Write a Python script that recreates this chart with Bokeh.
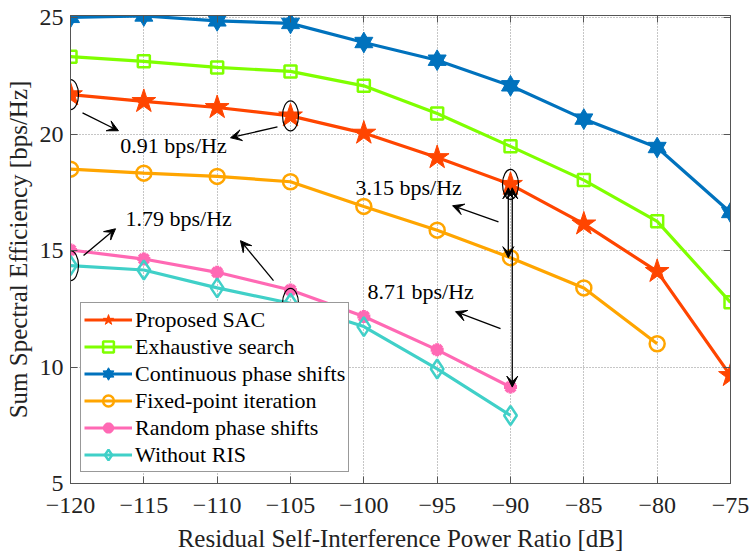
from bokeh.plotting import figure
from bokeh.models import (Range1d, FixedTicker, LinearAxis, Legend, LegendItem,
                          Arrow, VeeHead)
from bokeh.core.properties import value
from bokeh.embed import file_html
from bokeh.resources import INLINE

# data
x_db = [-120, -115, -110, -105, -100, -95, -90, -85, -80, -75]
proposed_sac = [21.70, 21.41, 21.15, 20.79, 20.05, 19.00, 17.85, 16.15, 14.11, 9.64]
exhaustive = [23.33, 23.13, 22.87, 22.70, 22.08, 20.89, 19.48, 18.03, 16.26, 12.78]
continuous = [25.02, 25.08, 24.87, 24.76, 23.94, 23.18, 22.08, 20.65, 19.43, 16.64]
fixed_point = [18.50, 18.33, 18.19, 17.96, 16.90, 15.88, 14.70, 13.40, 11.00]
random_phase = [15.03, 14.64, 14.07, 13.31, 12.17, 10.74, 9.14]
without_ris = [14.36, 14.17, 13.40, 12.74, 11.74, 9.92, 7.92]

x_ticks = [-120, -115, -110, -105, -100, -95, -90, -85, -80, -75]
x_tick_labels = ["\u2212120", "\u2212115", "\u2212110", "\u2212105", "\u2212100",
                 "\u221295", "\u221290", "\u221285", "\u221280", "\u221275"]
y_ticks = [5, 10, 15, 20, 25]

gap_labels = ["0.91 bps/Hz", "1.79 bps/Hz", "3.15 bps/Hz", "8.71 bps/Hz"]

FONT = "Liberation Serif"
RED = "#FF4500"
GREEN = "#7FFF00"
BLUE = "#0072BD"
ORANGE = "#FFA500"
PINK = "#FF69B4"
CYAN = "#40D0C8"

p = figure(width=754, height=557, output_backend="svg", toolbar_location=None,
           x_range=Range1d(-120, -75), y_range=Range1d(5, 25.1),
           min_border_left=70, min_border_right=24, min_border_top=15,
           min_border_bottom=74)
p.background_fill_color = "white"
p.outline_line_color = "#555555"

for ax in (p.xaxis[0], p.yaxis[0]):
    ax.major_tick_in = 7
    ax.major_tick_out = 0
    ax.minor_tick_line_color = None
    ax.axis_line_color = "#555555"
    ax.major_tick_line_color = "#555555"
    ax.major_label_text_font = FONT
    ax.major_label_text_font_size = "24px"
    ax.major_label_text_color = "#222222"
    ax.axis_label_text_font = FONT
    ax.axis_label_text_font_size = "25px"
    ax.axis_label_text_font_style = "normal"
    ax.axis_label_text_color = "#222222"

p.xaxis.ticker = FixedTicker(ticks=x_ticks)
p.xaxis.major_label_overrides = dict(zip(x_ticks, x_tick_labels))
p.yaxis.ticker = FixedTicker(ticks=y_ticks)
p.xaxis.axis_label = "Residual Self-Interference Power Ratio [dB]"
p.yaxis.axis_label = "Sum Spectral Efficiency [bps/Hz]"
p.xaxis.major_label_standoff = 14
p.xaxis.axis_label_standoff = 9
p.yaxis.major_label_standoff = 7
p.yaxis.axis_label_standoff = 5

# box ticks on top and right, no labels
top = LinearAxis(ticker=FixedTicker(ticks=x_ticks),
                 major_label_overrides={t: "" for t in x_ticks},
                 major_tick_in=7, major_tick_out=0, minor_tick_line_color=None,
                 axis_line_color="#555555", major_tick_line_color="#555555",
                 major_label_standoff=0)
right = LinearAxis(ticker=FixedTicker(ticks=y_ticks),
                   major_label_overrides={t: "" for t in y_ticks},
                   major_tick_in=7, major_tick_out=0, minor_tick_line_color=None,
                   axis_line_color="#555555", major_tick_line_color="#555555",
                   major_label_standoff=0)
p.add_layout(top, "above")
p.add_layout(right, "right")

p.xgrid.ticker = FixedTicker(ticks=x_ticks)
p.ygrid.ticker = FixedTicker(ticks=y_ticks)
p.grid.grid_line_color = "#8c8c8c"
p.grid.grid_line_dash = "1 2"
p.grid.grid_line_width = 1

LW = 3.2
items = []

# Proposed SAC
n = len(proposed_sac)
l1 = p.line(x_db[:n], proposed_sac, line_color=RED, line_width=LW)
m1 = p.scatter(x_db[:n], proposed_sac, marker="star", size=25, fill_color=RED,
               line_color=RED)
items.append(LegendItem(label="Proposed SAC", renderers=[l1, m1]))

# Exhaustive search
n = len(exhaustive)
l2 = p.line(x_db[:n], exhaustive, line_color=GREEN, line_width=LW)
m2 = p.scatter(x_db[:n], exhaustive, marker="square", size=12, fill_color=None,
               line_color=GREEN, line_width=2.5)
items.append(LegendItem(label="Exhaustive search", renderers=[l2, m2]))

# Continuous phase shifts (hexagram = two triangles)
n = len(continuous)
l3 = p.line(x_db[:n], continuous, line_color=BLUE, line_width=LW)
m3a = p.scatter(x_db[:n], continuous, marker="triangle", size=18, fill_color=BLUE,
                line_color=BLUE)
m3b = p.scatter(x_db[:n], continuous, marker="inverted_triangle", size=18,
                fill_color=BLUE, line_color=BLUE)
items.append(LegendItem(label="Continuous phase shifts", renderers=[l3, m3a, m3b]))

# Fixed-point iteration
n = len(fixed_point)
l4 = p.line(x_db[:n], fixed_point, line_color=ORANGE, line_width=LW)
m4 = p.scatter(x_db[:n], fixed_point, marker="circle", size=15, fill_color=None,
               line_color=ORANGE, line_width=2.5)
items.append(LegendItem(label="Fixed-point iteration", renderers=[l4, m4]))

# Random phase shifts
n = len(random_phase)
l5 = p.line(x_db[:n], random_phase, line_color=PINK, line_width=LW)
m5 = p.scatter(x_db[:n], random_phase, marker="asterisk", size=13,
               line_color=PINK, line_width=4)
items.append(LegendItem(label="Random phase shifts", renderers=[l5, m5]))

# Without RIS
n = len(without_ris)
l6 = p.line(x_db[:n], without_ris, line_color=CYAN, line_width=LW)
m6 = p.scatter(x_db[:n], without_ris, marker="diamond", size=19, fill_color=None,
               line_color=CYAN, line_width=2.5)
items.append(LegendItem(label="Without RIS", renderers=[l6, m6]))

# ellipses marking the compared points
ell_x = [x_db[0], x_db[3], x_db[6], x_db[0], x_db[3]]
ell_y = [proposed_sac[0], proposed_sac[3], proposed_sac[6], without_ris[0], without_ris[3]]
p.ellipse(x=ell_x, y=ell_y, width=16, height=30, width_units="screen",
          height_units="screen", fill_color=None, line_color="black", line_width=1.2)

# gap labels
label_x = [-116.6, -116.25, -100.57, -99.75]
label_y = [19.5, 16.37, 17.70, 13.24]
p.text(x=label_x, y=label_y, text=gap_labels, text_font=value(FONT),
       text_font_size="22px", text_baseline="middle", text_align="left",
       text_color="black")

# pointer arrows: (x_start, y_start, x_end, y_end)
pointers = [
    (-119.18, 20.92, -116.73, 20.15),
    (-105.89, 20.32, -109.09, 19.85),
    (-119.11, 14.79, -116.93, 15.94),
    (-106.16, 13.71, -108.41, 15.43),
    (-90.82, 16.24, -93.95, 16.93),
    (-90.68, 11.65, -93.75, 12.38),
]
for xs, ys, xe, ye in pointers:
    p.add_layout(Arrow(end=VeeHead(size=11, fill_color="black", line_color="black"),
                       x_start=xs, y_start=ys, x_end=xe, y_end=ye,
                       line_color="black", line_width=1.3))

# vertical double arrows at -90 dB
i90 = x_db.index(-90)
for dx, target in ((-0.15, fixed_point[i90]), (0.12, random_phase[i90])):
    p.add_layout(Arrow(start=VeeHead(size=11, fill_color="black", line_color="black"),
                       end=VeeHead(size=11, fill_color="black", line_color="black"),
                       x_start=-90 + dx, y_start=proposed_sac[i90] - 0.15,
                       x_end=-90 + dx, y_end=target,
                       line_color="black", line_width=1.3))

legend = Legend(items=items, location=(10, 11), orientation="vertical",
                label_text_font=FONT, label_text_font_size="22px",
                label_text_color="black", glyph_width=48, glyph_height=27,
                label_height=27, label_standoff=3, spacing=0, padding=3,
                margin=0, border_line_color="#333333", border_line_width=1,
                background_fill_color="white", background_fill_alpha=1.0)
p.add_layout(legend, "center")

open("out.html", "w").write(file_html(p, INLINE))
